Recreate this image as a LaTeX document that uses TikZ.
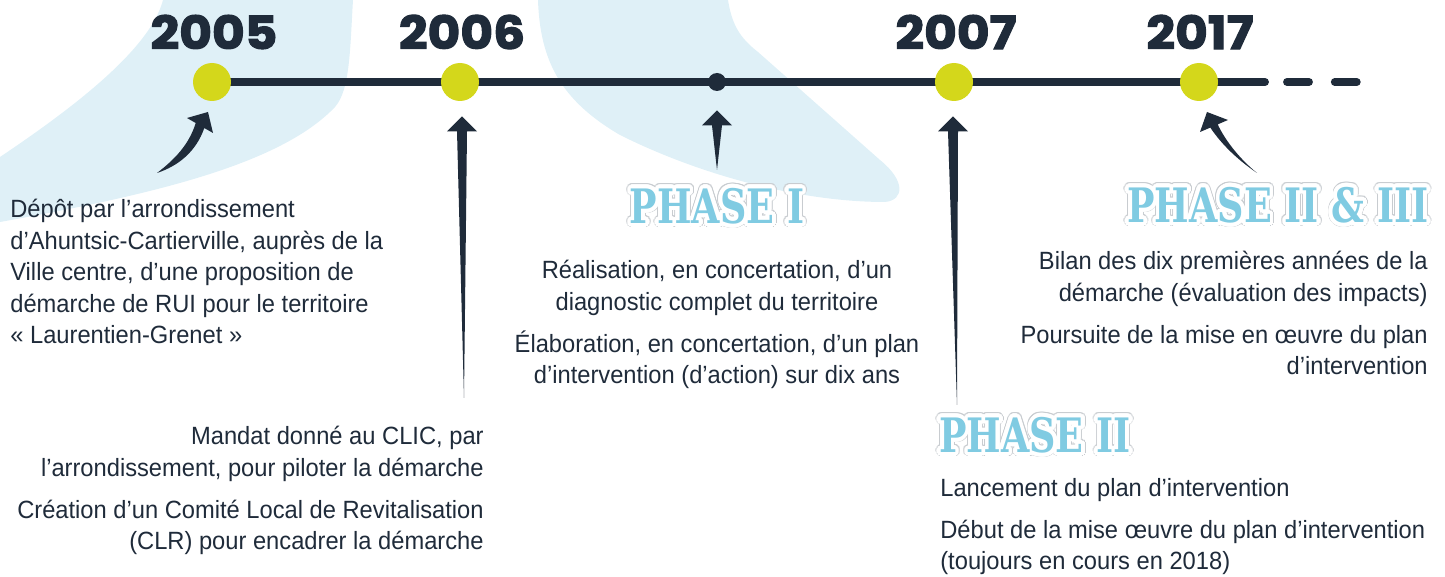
\documentclass[tikz,border=0pt]{standalone}
\usepackage{fontspec}
\usepackage{contour}
\setmainfont{Liberation Sans}[FakeStretch=0.95]
\newfontfamily\yearfont{Poppins}[FakeStretch=1.1, BoldFeatures={FakeBold=2.5}]
\newfontfamily\phasefont{DejaVu Serif}[FakeStretch=0.77]
\usetikzlibrary{calc}
\definecolor{navy}{HTML}{1F2B3A}
\definecolor{lime}{HTML}{D4D71B}
\definecolor{blob}{HTML}{DFF0F7}
\definecolor{phaseblue}{HTML}{80CBE2}
\definecolor{rimgray}{HTML}{C8CCD0}
\contournumber{32}
\tikzset{
    dot/.style={circle, fill=lime, minimum size=0.76cm, inner sep=0pt},
    tick/.style={circle, fill=navy, minimum size=0.36cm, inner sep=0pt},
    year/.style={font=\yearfont\bfseries\fontsize{26}{26}\selectfont,
    	text=navy, inner sep=0pt},
    txt/.style={font=\fontsize{14.2}{17.9}\selectfont, text=navy,
    	inner sep=0pt},
    phase/.style={font=\phasefont\bfseries\fontsize{27}{27}\selectfont,
    	text=phaseblue, inner sep=0pt},
    phaserim/.style={phase, text=rimgray}
}
\tikzset{
    timeline/.style={navy, line width=4.5pt, line cap=round}
}
\newcommand{\uparrowto}[2]{%
	\fill[navy] (#1) -- ($(#2)+(-5,15)$) -- ($(#2)+(-15,15)$) -- (#2)
		-- ($(#2)+(15,15)$) -- ($(#2)+(5,15)$) -- cycle;}
\newcommand{\phasetag}[3]{%
	\node (#1rim) [phaserim] at (#2) {\contourlength{2.6pt}\contour{rimgray}{#3}};
	\node (#1) [phase] at (#2) {\contourlength{2.1pt}\contour{white}{#3}};}
\pgfdeclarelayer{background}
\pgfsetlayers{background,main}

\begin{document}
\begin{tikzpicture}[x=0.02cm, y=-0.02cm]
	\useasboundingbox (0,0) rectangle (1445,577);

	\node (y2005) [dot] at (212,82) {};
	\node (y2006) [dot] at (460,82) {};
	\node (mid) [tick] at (717,82) {};
	\node (y2007) [dot] at (954,82) {};
	\node (y2017) [dot] at (1199,82) {};
	\coordinate (lineend) at (1265,82);
	\coordinate (dashstart) at (1287,82);
	\coordinate (dashend) at (1357,82);

	\node (t2005) [year] at (214,32) {2005};
	\node (t2006) [year] at (462,32) {2006};
	\node (t2007) [year] at (956,32) {2007};
	\node (t2017) [year] at (1200,32) {2017};

	\begin{pgfonlayer}{background}
		\fill[blob] (163,0) -- (353,0) .. controls (350,50) and (350,90) .. (335,107)
			.. controls (280,165) and (150,195) .. (0,222) -- (0,157)
			.. controls (70,110) and (150,50) .. (163,0) -- cycle;
		\fill[blob] (538,0) -- (728,0) .. controls (732,25) and (740,38) .. (758,52)
			-- (880,160) .. controls (905,180) and (905,200) .. (885,202)
			.. controls (800,202) and (700,175) .. (620,135)
			.. controls (560,100) and (540,60) .. (538,0) -- cycle;
		\draw[timeline] (y2005.center) -- (lineend);
		\draw[timeline, dash pattern=on 12.5pt off 14.7pt] (dashstart) -- (dashend);
	\end{pgfonlayer}

	% texts
	\node (dep) [txt, anchor=north west, align=left] at (10,199)
		{Dépôt par l’arrondissement\\
		d’Ahuntsic-Cartierville, auprès de la\\
		Ville centre, d’une proposition de\\
		démarche de RUI pour le territoire\\
		«~Laurentien-Grenet~»};
	\node (mandat) [txt, anchor=north east, align=right] at (484,426)
		{Mandat donné au CLIC, par\\
		l’arrondissement, pour piloter la démarche\\[6pt]
		Création d’un Comité Local de Revitalisation\\
		(CLR) pour encadrer la démarche};
	\phasetag{p1}{717,208}{PHASE I}
	\node (diag) [txt, anchor=north, align=center] at (717,260)
		{Réalisation, en concertation, d’un\\
		diagnostic complet du territoire\\[6pt]
		Élaboration, en concertation, d’un plan\\
		d’intervention (d’action) sur dix ans};
	\phasetag{p2}{1035,437}{PHASE II}
	\node (lanc) [txt, anchor=north west, align=left] at (940,478)
		{Lancement du plan d’intervention\\[6pt]
		Début de la mise œuvre du plan d’intervention\\
		(toujours en cours en 2018)};
	\phasetag{p3}{1278,207}{PHASE II \& III}
	\node (bilan) [txt, anchor=north east, align=right] at (1428,251)
		{Bilan des dix premières années de la\\
		démarche (évaluation des impacts)\\[6pt]
		Poursuite de la mise en œuvre du plan\\
		d’intervention};

	% arrows
	\coordinate (tail06) at (464,398);
	\coordinate (tailp1) at (717,170);
	\coordinate (tail07) at (957,405);
	\uparrowto{tail06}{$(y2006.south)+(2,15)$}
	\uparrowto{tailp1}{$(mid.south)+(0,19)$}
	\uparrowto{tail07}{$(y2007.south)+(-1,15)$}
	\coordinate (tail05) at (157,173);
	\coordinate (tip05) at (208,112);
	\fill[navy] (tail05) .. controls (174,160) and (189,145) .. (195.7,123)
		-- (187,118) -- (tip05) -- (213,133) -- (204.3,128)
		.. controls (196,152) and (178,166) .. (tail05) -- cycle;
	\coordinate (tail17) at (1257,173);
	\coordinate (tip17) at (1207,112);
	\fill[navy] (tail17) .. controls (1238,160) and (1222,145) .. (1210.3,127.6)
		-- (1200,132) -- (tip17) -- (1228,120) -- (1217.7,124.4)
		.. controls (1226,142) and (1241,160) .. (tail17) -- cycle;
\end{tikzpicture}
\end{document}
